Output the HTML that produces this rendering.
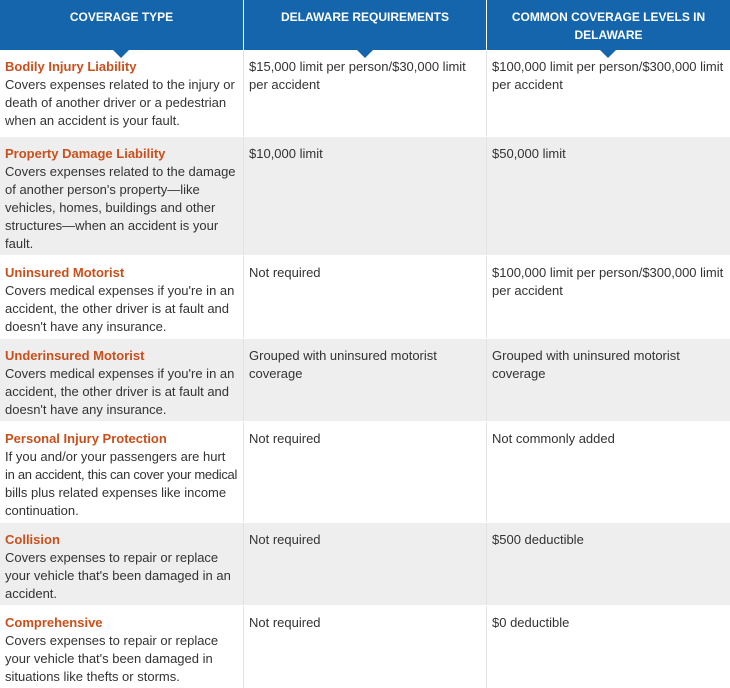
<!DOCTYPE html>
<html><head><meta charset="utf-8"><style>
*{margin:0;padding:0;box-sizing:border-box}
body{width:730px;height:688px;overflow:hidden;background:#fff;font-family:"Liberation Sans",Arial,sans-serif;font-size:13px;color:#333;position:relative}
.h{position:absolute;top:0;height:50px;background:#1565ad;color:#fff;font-weight:bold;font-size:12px;text-align:center;line-height:18px;padding-top:8px}
.tri{position:absolute;top:50px;width:0;height:0;border-left:8px solid transparent;border-right:8px solid transparent;border-top:8px solid #1565ad;z-index:2}
.r{position:absolute;left:0;width:730px}
.c{position:absolute;top:0;bottom:0;padding:8px 0 0 5px;line-height:18px;border-left:1px solid #e2e2e2;white-space:nowrap;overflow:hidden}
.t{color:#c9501c;font-weight:bold}
.g{background:#eeeeee}
</style></head><body>
<div class="h" style="left:0;width:243px">COVERAGE TYPE</div>
<div class="h" style="left:244px;width:242px">DELAWARE REQUIREMENTS</div>
<div class="h" style="left:487px;width:243px">COMMON COVERAGE LEVELS IN<br>DELAWARE</div>
<div class="tri" style="left:113px"></div>
<div class="tri" style="left:357px"></div>
<div class="tri" style="left:600px"></div>

<div class="r" style="top:50px;height:86px">
<div class="c" style="left:0;width:243px;border:none"><div class="t">Bodily Injury Liability</div>Covers expenses related to the injury or<br>death of another driver or a pedestrian<br>when an accident is your fault.</div>
<div class="c" style="left:243px;width:243px">$15,000 limit per person/$30,000 limit<br>per accident</div>
<div class="c" style="left:486px;width:244px">$100,000 limit per person/$300,000 limit<br>per accident</div></div>

<div class="r g" style="top:137px;height:118px">
<div class="c" style="left:0;width:243px;border:none"><div class="t">Property Damage Liability</div>Covers expenses related to the damage<br>of another person's property—like<br>vehicles, homes, buildings and other<br>structures—when an accident is your<br>fault.</div>
<div class="c" style="left:243px;width:243px">$10,000 limit</div>
<div class="c" style="left:486px;width:244px">$50,000 limit</div></div>

<div class="r" style="top:256px;height:82px">
<div class="c" style="left:0;width:243px;border:none"><div class="t">Uninsured Motorist</div>Covers medical expenses if you're in an<br>accident, the other driver is at fault and<br>doesn't have any insurance.</div>
<div class="c" style="left:243px;width:243px">Not required</div>
<div class="c" style="left:486px;width:244px">$100,000 limit per person/$300,000 limit<br>per accident</div></div>

<div class="r g" style="top:339px;height:82px">
<div class="c" style="left:0;width:243px;border:none"><div class="t">Underinsured Motorist</div>Covers medical expenses if you're in an<br>accident, the other driver is at fault and<br>doesn't have any insurance.</div>
<div class="c" style="left:243px;width:243px">Grouped with uninsured motorist<br>coverage</div>
<div class="c" style="left:486px;width:244px">Grouped with uninsured motorist<br>coverage</div></div>

<div class="r" style="top:422px;height:100px">
<div class="c" style="left:0;width:243px;border:none"><div class="t">Personal Injury Protection</div>If you and/or your passengers are hurt<br><span style="letter-spacing:-0.3px">in an accident, this can cover your medical</span><br>bills plus related expenses like income<br>continuation.</div>
<div class="c" style="left:243px;width:243px">Not required</div>
<div class="c" style="left:486px;width:244px">Not commonly added</div></div>

<div class="r g" style="top:523px;height:82px">
<div class="c" style="left:0;width:243px;border:none"><div class="t">Collision</div>Covers expenses to repair or replace<br>your vehicle that's been damaged in an<br>accident.</div>
<div class="c" style="left:243px;width:243px">Not required</div>
<div class="c" style="left:486px;width:244px">$500 deductible</div></div>

<div class="r" style="top:606px;height:82px">
<div class="c" style="left:0;width:243px;border:none"><div class="t">Comprehensive</div>Covers expenses to repair or replace<br>your vehicle that's been damaged in<br>situations like thefts or storms.</div>
<div class="c" style="left:243px;width:243px">Not required</div>
<div class="c" style="left:486px;width:244px">$0 deductible</div></div>
</body></html>
